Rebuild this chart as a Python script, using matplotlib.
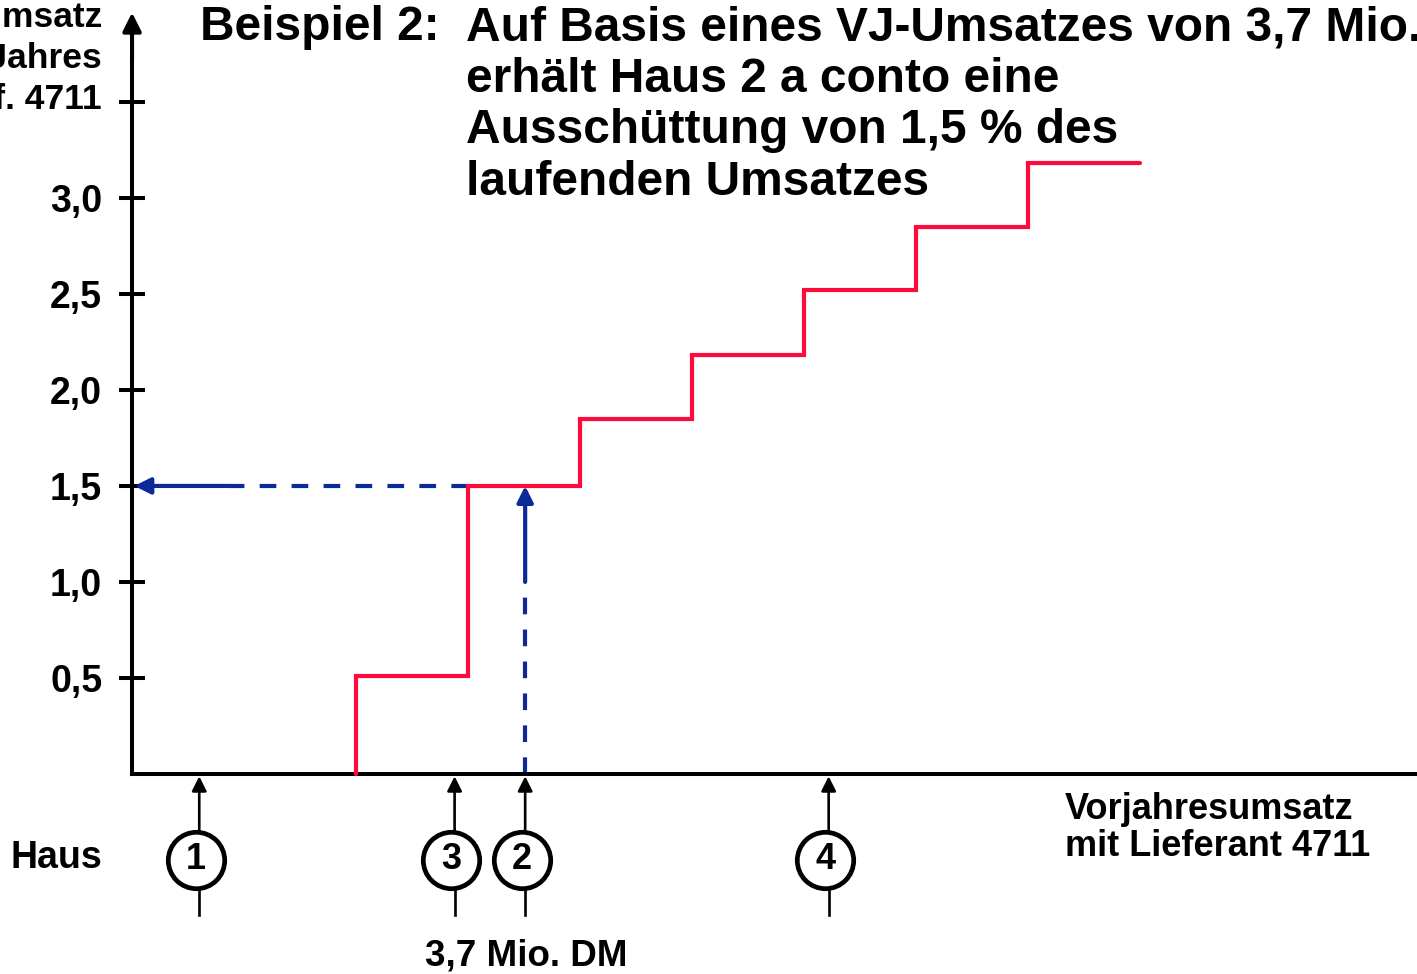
import matplotlib.pyplot as plt

plt.rcParams['font.family'] = ['Liberation Sans', 'DejaVu Sans']
plt.rcParams['font.weight'] = 'bold'
plt.rcParams['lines.scale_dashes'] = False

# Stufen der Ausschuettung (x: Vorjahresumsatz, y: % vom laufenden Umsatz)
stufen_x = [2.0, 2.0, 3.0, 4.0, 5.0, 6.0, 7.0, 8.0, 9.0]
stufen_y = [0.0, 0.51, 1.5, 1.85, 2.18, 2.52, 2.85, 3.18, 3.18]

# Haeuser auf der x-Achse
haus_nr = ['1', '2', '3', '4']
haus_x = [0.6, 3.51, 2.88, 6.22]

# Beispiel Haus 2
vj_umsatz = 3.51
ausschuettung = 1.5
stufe_links = 3.0

y_ticks = [0.5, 1.0, 1.5, 2.0, 2.5, 3.0, 3.5]
y_labels = ['0,5', '1,0', '1,5', '2,0', '2,5', '3,0', '']

rot = '#ff0a3c'
blau = '#0a2a9a'
W, H = 1417, 974

fig = plt.figure(figsize=(W / 100, H / 100), dpi=100)
ax = fig.add_axes([0, 0, 1, 1])
ax.set_xlim(-1.179, 11.473)
ax.set_ylim(-1.042, 4.031)

# Achsen
for s in ['top', 'right']:
    ax.spines[s].set_visible(False)
ax.spines['left'].set_position(('data', 0))
ax.spines['bottom'].set_position(('data', 0))
ax.spines['left'].set_bounds(0, 3.9)
ax.spines['bottom'].set_bounds(0, 11.5)
ax.spines['left'].set_linewidth(2.9)
ax.spines['bottom'].set_linewidth(2.9)
ax.set_xticks([])
ax.set_yticks(y_ticks)
ax.set_yticklabels(y_labels, fontsize=27, fontweight='bold')
ax.tick_params(axis='y', direction='inout', length=19, width=2.9, pad=12)
ax.annotate('', xy=(0, 3.98), xytext=(0, 3.7),
            arrowprops=dict(arrowstyle='-|>', lw=2.9, color='black', mutation_scale=28))
ax.annotate('', xy=(11.62, 0), xytext=(11.3, 0),
            arrowprops=dict(arrowstyle='-|>', lw=2.9, color='black', mutation_scale=28,
                            shrinkA=0, shrinkB=0))

# Stufenfunktion
ax.step(stufen_x, stufen_y, where='post', color=rot, lw=3.0,
        solid_capstyle='round', solid_joinstyle='miter', zorder=3)

# Blaue Pfeile fuer Haus 2
ax.plot([vj_umsatz, vj_umsatz], [0, 1.0], color=blau, lw=3.0,
        linestyle=(0, (12, 11)), zorder=2)
ax.annotate('', xy=(vj_umsatz, ausschuettung), xytext=(vj_umsatz, 1.0),
            arrowprops=dict(arrowstyle='-|>', lw=3.0, color=blau, mutation_scale=24,
                            shrinkA=0, shrinkB=0), zorder=4)
ax.plot([stufe_links, 0.87], [ausschuettung, ausschuettung], color=blau, lw=3.0,
        linestyle=(0, (12, 11)), zorder=2)
ax.annotate('', xy=(0.02, ausschuettung), xytext=(0.87, ausschuettung),
            arrowprops=dict(arrowstyle='-|>', lw=3.0, color=blau, mutation_scale=24,
                            shrinkA=0, shrinkB=0), zorder=4)

# Haeuser
for nr, hx in zip(haus_nr, haus_x):
    ax.plot([hx, hx], [-0.734, -0.3], color='black', lw=1.9, zorder=2)
    ax.annotate('', xy=(hx, -0.012), xytext=(hx, -0.3),
                arrowprops=dict(arrowstyle='-|>', lw=1.9, color='black', mutation_scale=22,
                                shrinkA=0, shrinkB=0))
    ax.scatter([hx - 0.03], [-0.448], s=1650, facecolor='white', edgecolor='black',
               linewidth=3.4, zorder=5)
    ax.text(hx - 0.03, -0.448, nr, fontsize=26, fontweight='bold',
            ha='center', va='center', zorder=6)

# Texte
fig.text(200 / W, 1 - 5 / H, 'Beispiel 2:', fontsize=34.5, fontweight='bold',
         ha='left', va='top')
fig.text(466 / W, 1 - 5 / H,
         'Auf Basis eines VJ-Umsatzes von 3,7 Mio.\nerhält Haus 2 a conto eine\n'
         'Ausschüttung von 1,5 % des\nlaufenden Umsatzes',
         fontsize=34.5, fontweight='bold', ha='left', va='top', linespacing=1.19)
fig.text(102 / W, 1 - 1 / H, 'Ausschüttung in % vom Umsatz\ndes laufenden Jahres\nmit Lief. 4711',
         fontsize=25.5, fontweight='bold', ha='right', va='top', multialignment='right',
         linespacing=1.3)
fig.text(102 / W, 1 - 858 / H, 'Haus', fontsize=27, fontweight='bold',
         ha='right', va='center')
fig.text(1065 / W, 1 - 792 / H, 'Vorjahresumsatz\nmit Lieferant 4711', fontsize=26,
         fontweight='bold', ha='left', va='top', linespacing=1.06)
fig.text(526 / W, 1 - 956 / H, '3,7 Mio. DM', fontsize=26.5, fontweight='bold',
         ha='center', va='center')

fig.savefig('out.png', dpi=100)
